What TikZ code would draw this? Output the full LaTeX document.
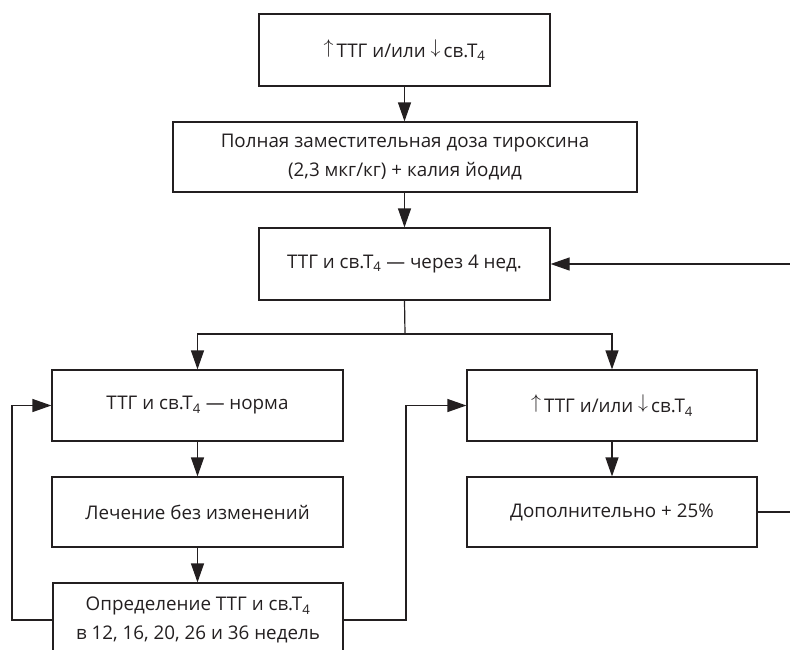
\documentclass[tikz,border=0pt]{standalone}
\usepackage{fontspec}
\setmainfont{Open Sans}
\usetikzlibrary{arrows.meta}
\definecolor{ink}{RGB}{35,31,32}
\newcommand{\svT}{св.T\textsubscript{4}}
\newcommand{\upar}{\raisebox{0.2em}{\scalebox{1.15}{$\uparrow$}}}
\newcommand{\dnar}{\raisebox{0.2em}{\scalebox{1.15}{$\downarrow$}}}
\begin{document}
\begin{tikzpicture}[x=1pt,y=-1pt,
  box/.style={draw=ink, line width=1.2pt, align=center, inner sep=0pt,
    text=ink, font=\fontsize{18.8}{29}\selectfont},
  flow/.style={draw=ink, line width=1.2pt,
    -{Triangle[length=19pt,width=13pt]}},
  link/.style={draw=ink, line width=1.2pt}]
\useasboundingbox (0,0) rectangle (790,649);
\clip (0,0) rectangle (790,649);

% boxes
\node[box, minimum width=291pt, minimum height=72pt] (b1) at (404.5,50)
  {\upar\,ТТГ и/или \dnar\,\svT};
\node[box, minimum width=464pt, minimum height=70pt] (b2) at (405,157)
  {Полная заместительная доза тироксина\\(2,3 мкг/кг) + калия йодид};
\node[box, minimum width=291pt, minimum height=72pt] (b3) at (404.5,264)
  {ТТГ и \svT{} — через 4 нед.};
\node[box, minimum width=291pt, minimum height=71pt] (b4) at (197.5,405.5)
  {ТТГ и \svT{} — норма};
\node[box, minimum width=291pt, minimum height=70pt] (b5) at (197.5,512)
  {Лечение без изменений};
\node[box, minimum width=290pt, minimum height=74pt] (b6) at (198,620)
  {Определение ТТГ и \svT\\в 12, 16, 20, 26 и 36 недель};
\node[box, minimum width=290pt, minimum height=71pt] (b7) at (612,405.5)
  {\upar\,ТТГ и/или \dnar\,\svT};
\node[box, minimum width=290pt, minimum height=70pt] (b8) at (612,512)
  {Дополнительно + 25\%};

% routing points
\coordinate (split) at (405,334);
\coordinate (lx) at (12,0);
\coordinate (mx) at (406,0);
\coordinate (rx) at (800,0);

% connectors
\draw[flow] (b1.south) -- (b1.south |- b2.north);
\draw[flow] (b2.south -| b3.north) -- (b3.north);
\draw[link] (b3.south) -- (split);
\draw[flow] (split) -| (b4.north);
\draw[flow] (split) -| (b7.north);
\draw[flow] (b4.south) -- (b5.north);
\draw[flow] (b5.south) -- (b5.south |- b6.north);
\draw[flow] (b7.south) -- (b8.north);
\draw[flow] (b6.west) -- (b6.west -| lx) -- (lx |- b4.west) -- (b4.west);
\draw[flow] (b6.east) -- (b6.east -| mx) -- (mx |- b7.west) -- (b7.west);
\draw[flow] (b8.east) -- (b8.east -| rx) -- (rx |- b3.east) -- (b3.east);
\end{tikzpicture}
\end{document}
